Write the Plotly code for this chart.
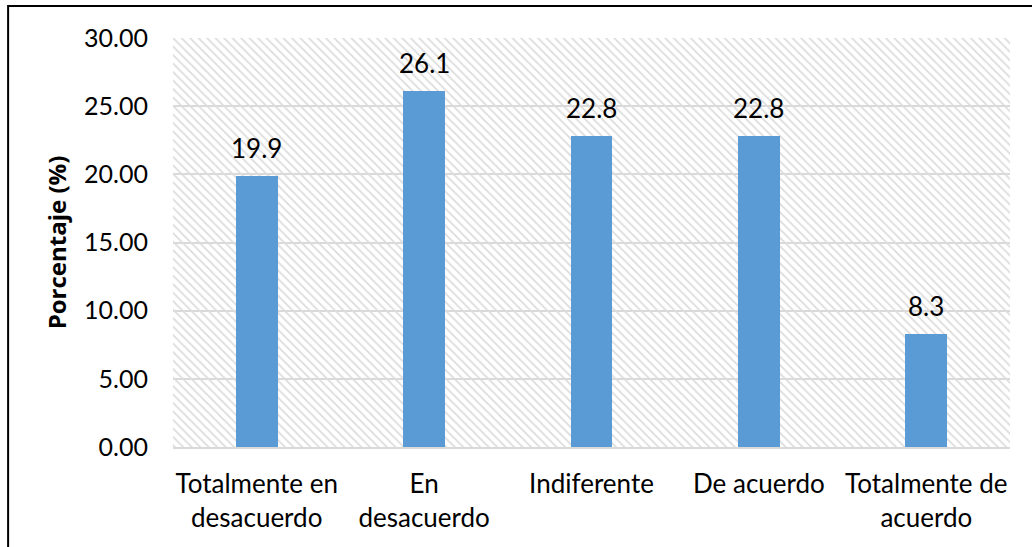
import plotly.graph_objects as go

# ── Data ────────────────────────────────────────────────────────────────
categorias = [
    "Totalmente en<br>desacuerdo",
    "En<br>desacuerdo",
    "Indiferente",
    "De acuerdo",
    "Totalmente de<br>acuerdo",
]
porcentajes = [19.9, 26.1, 22.8, 22.8, 8.3]
y_ticks = [0, 5, 10, 15, 20, 25, 30]
y_tick_labels = ["0.00", "5.00", "10.00", "15.00", "20.00", "25.00", "30.00"]

_FONT = "Lato, 'Open Sans', sans-serif"
_TITLE_FONT = "'Open Sans', sans-serif"
_BAR = "#5b9bd5"
_GRID = "#d9d9d9"

pos = list(range(len(categorias)))

fig = go.Figure()

# hatched plot background (one wide bar behind everything)
fig.add_trace(go.Bar(
    x=[(pos[0] + pos[-1]) / 2], y=[y_ticks[-1]],
    width=[len(pos)],
    marker=dict(
        color="rgba(0,0,0,0)",
        line=dict(width=0),
        pattern=dict(shape="\\", size=6, solidity=0.3,
                     fgcolor="#dcdcdc", fillmode="replace"),
    ),
    hoverinfo="skip", showlegend=False,
))

fig.add_trace(go.Bar(
    x=pos, y=porcentajes,
    width=0.25,
    marker=dict(color=_BAR, line=dict(width=0)),
    showlegend=False,
))

# value labels above the bars
for x, v in zip(pos, porcentajes):
    fig.add_annotation(
        x=x, y=v, text=f"{v:.1f}",
        showarrow=False, yanchor="bottom", yshift=10,
        font=dict(size=26, color="#000000", family=_FONT),
    )

fig.update_layout(
    width=1032, height=547,
    barmode="overlay",
    paper_bgcolor="white",
    plot_bgcolor="white",
    font=dict(family=_FONT, size=26, color="#000000"),
    margin=dict(l=173, r=22, t=38, b=100, autoexpand=False),
    bargap=0,
)

fig.update_xaxes(
    range=[-0.5, len(pos) - 0.5],
    tickvals=pos, ticktext=categorias,
    showgrid=False, ticks="",
    showline=True, linecolor=_GRID, linewidth=2,
    zeroline=False,
    ticklabelstandoff=13,
    tickfont=dict(size=26),
)

fig.update_yaxes(
    range=[0, 30],
    tickvals=y_ticks, ticktext=y_tick_labels,
    showgrid=True, gridcolor=_GRID, gridwidth=2,
    zeroline=False, showline=False, ticks="",
    ticklabelstandoff=24,
    tickfont=dict(size=25),
    title=dict(text="<b>Porcentaje (%)</b>",
               font=dict(size=24, family=_TITLE_FONT), standoff=10),
)

# outer chart border
fig.add_shape(
    type="rect", xref="paper", yref="paper",
    x0=-0.197, x1=1.05, y0=-0.4, y1=1.078,
    line=dict(color="#000000", width=2), fillcolor="rgba(0,0,0,0)",
    layer="above",
)

fig.write_html(
    "out.html",
    config={"displayModeBar": False},
    post_script="document.body.style.margin='0';",
)
